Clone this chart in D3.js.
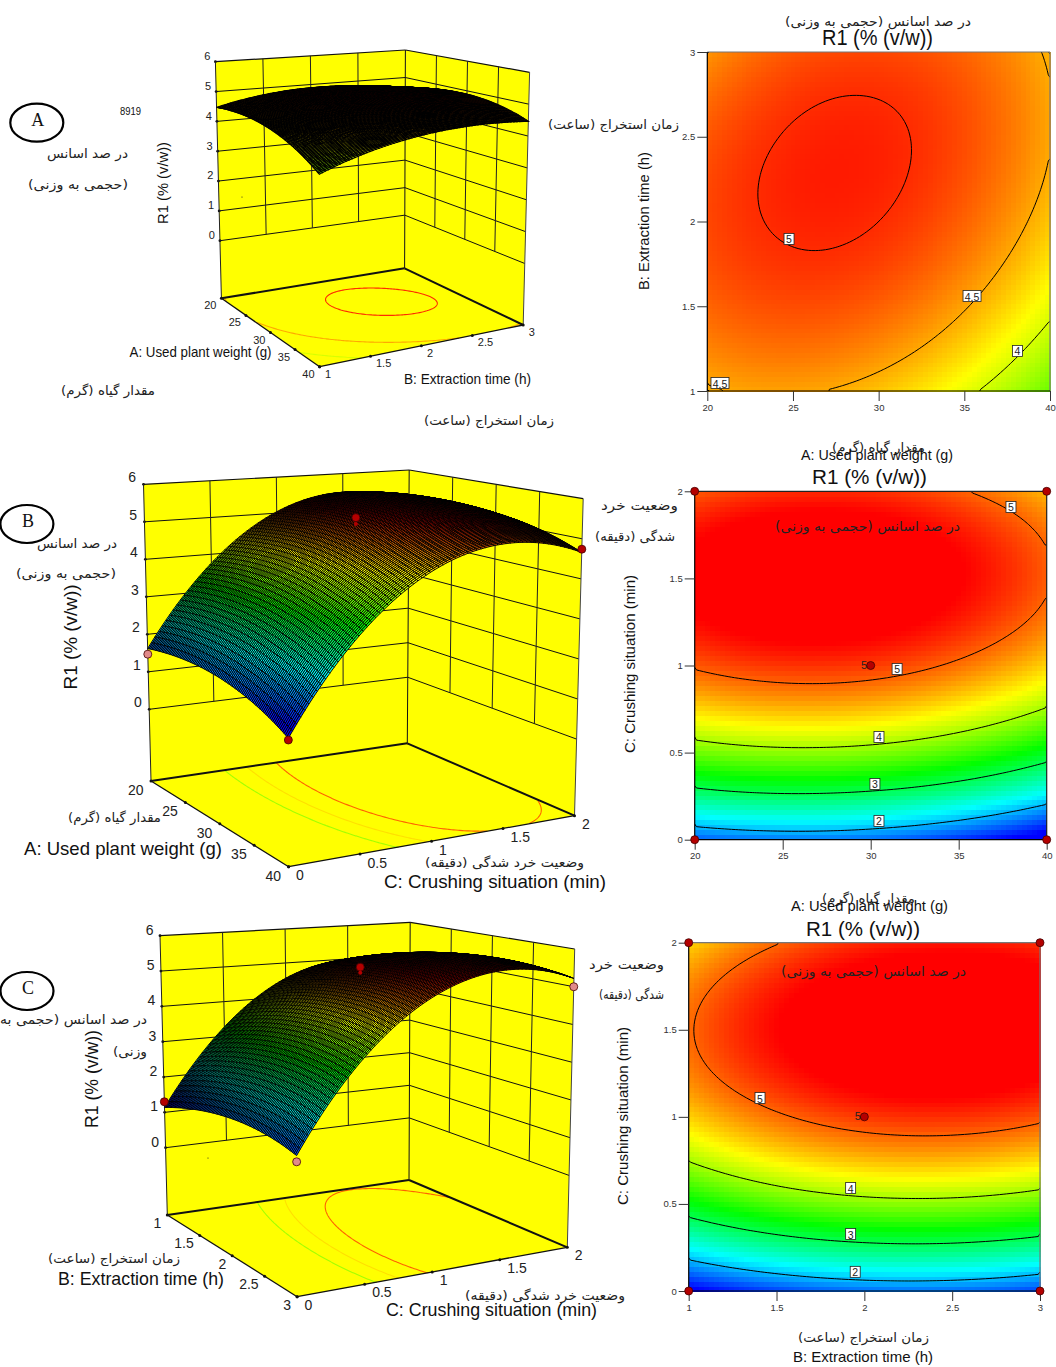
<!DOCTYPE html>
<html><head><meta charset="utf-8">
<style>html,body{margin:0;padding:0;background:#fff}svg{display:block}</style>
<script src="https://cdn.jsdelivr.net/npm/d3@7/dist/d3.min.js"></script>
</head><body><svg id="c" width="1056" height="1367"></svg>
<script>
// ---------- data ----------
const weightTicks=[20,25,30,35,40];
const timeTicks=[1,1.5,2,2.5,3];
const crushTicks=[0,0.5,1,1.5,2];
const r1Ticks=[0,1,2,3,4,5,6];
// R1 read at each (y row, x column): rows follow the y ticks, columns the x ticks
const r1WeightTime=[
 [4.47,4.525,4.39,4.07,3.57],
 [4.77,4.87,4.79,4.52,4.07],
 [4.89,5.03,5.00,4.78,4.38],
 [4.83,5.02,5.04,4.87,4.51],
 [4.58,4.83,4.89,4.77,4.46]];
const r1WeightCrush=[
 [1.62,1.75,1.69,1.44,1.00],
 [3.76,3.90,3.85,3.62,3.20],
 [5.04,5.19,5.16,4.94,4.54],
 [5.47,5.64,5.62,5.42,5.03],
 [5.04,5.22,5.22,5.03,4.66]];
const r1TimeCrush=[
 [1.14,1.50,1.68,1.68,1.50],
 [3.27,3.66,3.86,3.88,3.72],
 [4.55,4.95,5.17,5.21,5.07],
 [4.97,5.39,5.63,5.70,5.58],
 [4.54,4.98,5.24,5.32,5.22]];
const levelsA=[4,4.5,5], levelsBC=[2,3,4,5], floorLevels=[4,4.5,5];
const rampA=[1.13,2.14,3.15,4.16,5.17], rampBC=[1.25,2.3,3.35,4.37,5.4];
const rampColors=['#0000ff','#00ffff','#00ff00','#ffff00','#ff0000'];
// design points: [x, y, R1, kind]
const pointsB=[[20,0,1.47,'low'],[40,0,0.96,'high'],[40,2,4.74,'high'],[30,1,5.36,'high'],[30,1,5.2,'small']];
const pointsC=[[1,0,1.3,'high'],[3,0,1.35,'low'],[3,2,5.0,'low'],[2,1,5.37,'high'],[2,1,5.22,'small']];
const heatCornersB=[[20,0],[40,0],[20,2],[40,2],[30,1]];
const heatCornersC=[[1,0],[3,0],[1,2],[3,2],[2,1]];
// contour label anchors: [x, y, text]
const labelsA=[[24.77,1.897,'5'],[35.45,1.56,'4.5'],[38.1,1.236,'4'],[20.74,1.047,'4.5']];
const labelsB=[[37.97,1.91,'5'],[31.5,0.98,'5'],[30.47,0.59,'4'],[30.24,0.32,'3'],[30.47,0.108,'2']];
const labelsC=[[1.406,1.108,'5'],[1.922,0.591,'4'],[1.922,0.327,'3'],[1.948,0.11,'2']];

const FA='"DejaVu Sans"',LA='"Liberation Sans"',SE='"Liberation Serif"';
const faEssence='در صد اسانس',faBasis='(حجمی به وزنی)',faFull='در صد اسانس (حجمی به وزنی)';
const faPlant='مقدار گیاه (گرم)',faTime='زمان استخراج (ساعت)',faCrush='وضعیت خرد شدگی (دقیقه)';
const tWeight='A: Used plant weight (g)',tTime='B: Extraction time (h)',tCrush='C: Crushing situation (min)',tR='R1 (% (v/w))';
// free text: [string, centre x, centre y, width, font size, font, rotated]
const texts=[
 ['8919',130.5,111,21,10,LA],
 [faEssence,87.5,153,81,13,FA],[faBasis,78,184,100,13,FA],[faPlant,108,390,94,13,FA],[faTime,489,420,130,13,FA],[faTime,613.5,124,131,13,FA],
 [faFull,878,21,186,13,FA],[tR,877.5,37,111,22,LA],
 [tWeight,200.5,351,142,15,LA],[tTime,467.5,378,127,15,LA],[tR,163,183,82,14.5,LA,1],
 [tTime,643,221,138,15,LA,1],
 [faPlant,878.5,447,93,13,FA],[tWeight,877,455,152,14.5,LA],
 // B
 [faEssence,77,543,80,13,FA],[faBasis,66,573,100,13,FA],[tR,70,637,105,19,LA,1],
 [faPlant,114.5,817,93,13,FA],[tWeight,123,848,198,19,LA],[faCrush,504.5,862,159,13,FA],[tCrush,495,881,222,19,LA],
 ['وضعیت خرد',639.5,505,77,13,FA],['شدگی (دقیقه)',635,536,80,13,FA],
 [tR,869.5,476,115,21,LA],[tCrush,629,664,178,15.5,LA,1],
 [faPlant,868.5,898,93,13,FA],[tWeight,869.5,906,157,14.5,LA],
 // C
 ['در صد اسانس (حجمی به',73.5,1019,147,13,FA],['وزنی)',130,1051,34,13,FA],[tR,92,1079,98,18,LA,1],
 [faTime,114,1258,132,13,FA],[tTime,141,1278,166,19,LA],[faCrush,545,1295,160,13,FA],[tCrush,491.5,1309,211,19,LA],
 ['وضعیت خرد',626.5,964,75,13,FA],['شدگی (دقیقه)',631.5,994,65,13,FA],
 [tR,863,928,114,21,LA],[tCrush,622,1116,178,15.5,LA,1],
 [faTime,863.5,1337,131,13,FA],[tTime,863,1357,140,14.5,LA]
];
const inPlot=[[faFull,867.5,526,185,13.5,FA],[faFull,873.5,971,185,13.5,FA]];

// ---------- drawing ----------
const svg=d3.select('#c');
function txt(g,d){
 const [s,cx,cy,w,size,font,rot]=d;
 const isFa=font===FA;
 g.append('text').attr('transform',`translate(${cx},${cy})`+(rot?' rotate(-90)':''))
  .attr('text-anchor','middle').attr('dominant-baseline','central')
  .attr('font-family',font).attr('font-size',size).attr('fill',isFa?'#222':'#111')
  .attr('direction',isFa?'rtl':null)
  .attr('textLength',w).attr('lengthAdjust','spacingAndGlyphs').text(s);
}
// biquartic upsampling of the read grid for drawing
function lag(t,i){const n=[0,.25,.5,.75,1];let r=1;n.forEach((v,k)=>{if(k!==i)r*=(t-v)/(n[i]-v)});return r}
function surf(grid,u,v){let s=0;for(let j=0;j<5;j++){const lj=lag(v,j);for(let i=0;i<5;i++)s+=grid[j][i]*lag(u,i)*lj}return s}
function ringsPath(level,grid,map){
 const n=100,vals=new Float64Array(n*n);
 for(let j=0;j<n;j++)for(let i=0;i<n;i++)vals[j*n+i]=surf(grid,(i+.5)/n,(j+.5)/n);
 const c=d3.contours().size([n,n]).thresholds([level])(vals)[0];
 let d='';
 c.coordinates.forEach(poly=>poly.forEach(ring=>{
  let pen=false;
  for(let k=1;k<ring.length;k++){
   const a=ring[k-1],b=ring[k];
   const edge=(a[0]===b[0]&&(a[0]===0||a[0]===n))||(a[1]===b[1]&&(a[1]===0||a[1]===n));
   if(edge){pen=false;continue}
   if(!pen){const p=map(a[0]/n,a[1]/n);d+='M'+p[0].toFixed(2)+','+p[1].toFixed(2);pen=true}
   const p=map(b[0]/n,b[1]/n);d+='L'+p[0].toFixed(2)+','+p[1].toFixed(2);
  }
 }));
 return d;
}
function dot(g,x,y,kind,r){
 g.append('circle').attr('cx',x).attr('cy',y).attr('r',r)
  .attr('fill',kind==='low'?'#e08a8a':'#b40000').attr('stroke',kind==='small'?'none':'#400').attr('stroke-width',.8);
}

function panel3d(c){
 const g=svg.append('g');
 const X=d3.scaleLinear().domain(d3.extent(c.xTicks)).range([0,1]);
 const Y=d3.scaleLinear().domain(d3.extent(c.yTicks)).range([0,1]);
 const Z=d3.scaleLinear().domain([c.zFloor,6]).range([0,1]);
 const bil=(q,u,v)=>{const a=d3.interpolate(q[0],q[1])(v),b=d3.interpolate(q[3],q[2])(v);return d3.interpolate(a,b)(u)};
 const proj=(u,v,w)=>{const f=bil(c.floor,u,v),t=bil(c.top,u,v);return [f[0]+(t[0]-f[0])*w,f[1]+(t[1]-f[1])*w]};
 const P=(x,y,z)=>proj(X(x),Y(y),Z(z));
 const line=d3.line();
 const poly=pts=>line(pts)+'Z';
 const fz=c.zFloor;
 // walls and floor
 g.append('path').attr('d',poly([proj(0,0,0),proj(0,1,0),proj(0,1,1),proj(0,0,1)])).attr('fill','#ffff00');
 g.append('path').attr('d',poly([proj(0,1,0),proj(1,1,0),proj(1,1,1),proj(0,1,1)])).attr('fill','#ffff00');
 g.append('path').attr('d',poly([proj(0,0,0),proj(1,0,0),proj(1,1,0),proj(0,1,0)])).attr('fill','#ffff00');
 const L=(a,b,w,col)=>g.append('path').attr('d',line([a,b])).attr('stroke',col||'#111').attr('stroke-width',w).attr('fill','none');
 r1Ticks.forEach(z=>{
  L(P(c.xTicks[0],c.yTicks[0],z),P(c.xTicks[0],c.yTicks[4],z),z===6?1.2:1);
  L(P(c.xTicks[0],c.yTicks[4],z),P(c.xTicks[4],c.yTicks[4],z),z===6?1.2:1);
  const t=P(c.xTicks[0],c.yTicks[0],z);
  g.append('circle').attr('cx',t[0]).attr('cy',t[1]).attr('r',1.4).attr('fill','#111');
  g.append('text').attr('x',t[0]+c.zOff[0]).attr('y',t[1]+c.zOff[1]).attr('text-anchor','end').attr('dominant-baseline','central')
   .attr('font-family',LA).attr('font-size',c.tickSize).attr('fill','#222').text(z);
 });
 c.yTicks.slice(1,4).forEach(y=>L(P(c.xTicks[0],y,0),P(c.xTicks[0],y,6),1,'#222'));
 c.xTicks.slice(1,4).forEach(x=>L(P(x,c.yTicks[4],0),P(x,c.yTicks[4],6),1,'#222'));
 L(proj(0,0,0),proj(0,0,1),1,'#222');L(proj(0,1,0),proj(0,1,1),1);L(proj(1,1,0),proj(1,1,1),1,'#444');
 // floor contours
 const ramp=d3.scaleLinear().domain(c.ramp).range(rampColors).clamp(true);
 floorLevels.forEach(l=>g.append('path').attr('d',ringsPath(l,c.grid,(u,v)=>proj(u,v,0)))
  .attr('fill','none').attr('stroke',ramp(l)).attr('stroke-width',1.1));
 L(proj(0,0,0),proj(0,1,0),2);L(proj(0,1,0),proj(1,1,0),2);L(proj(0,0,0),proj(1,0,0),1.3);L(proj(1,0,0),proj(1,1,0),1.3);
 // floor ticks and labels
 c.xTicks.forEach(x=>{const t=P(x,c.yTicks[0],fz);
  g.append('circle').attr('cx',t[0]).attr('cy',t[1]).attr('r',1.5).attr('fill','#111');
  g.append('text').attr('x',t[0]+c.xOff[0]).attr('y',t[1]+c.xOff[1]).attr('text-anchor','end').attr('dominant-baseline','central')
   .attr('font-family',LA).attr('font-size',c.tickSize).attr('fill','#222').text(x)});
 c.yTicks.forEach(y=>{const t=P(c.xTicks[4],y,fz);
  g.append('circle').attr('cx',t[0]).attr('cy',t[1]).attr('r',1.5).attr('fill','#111');
  g.append('text').attr('x',t[0]+c.yOff[0]).attr('y',t[1]+c.yOff[1]).attr('text-anchor','start').attr('dominant-baseline','central')
   .attr('font-family',LA).attr('font-size',c.tickSize).attr('fill','#222').text(y)});
 // mesh, back to front
 const nx=100,ny=70,cells=[];
 for(let j=0;j<ny;j++)for(let i=0;i<nx;i++)cells.push([i,j,(i+.5)/nx-(j+.5)/ny]);
 cells.sort((a,b)=>a[2]-b[2]);
 const zw=v=>Z(v);
 g.append('g').selectAll('path').data(cells).join('path')
  .attr('d',d=>{const [i,j]=d,u0=i/nx,u1=(i+1)/nx,v0=j/ny,v1=(j+1)/ny;
   return poly([proj(u0,v0,zw(surf(c.grid,u0,v0))),proj(u1,v0,zw(surf(c.grid,u1,v0))),proj(u1,v1,zw(surf(c.grid,u1,v1))),proj(u0,v1,zw(surf(c.grid,u0,v1)))])})
  .attr('fill',d=>ramp(surf(c.grid,(d[0]+.5)/nx,(d[1]+.5)/ny)))
  .attr('stroke','#000').attr('stroke-width',c.mesh);
 (c.points||[]).forEach(p=>{const t=P(p[0],p[1],p[2]);dot(g,t[0],t[1],p[3],p[3]==='small'?2:c.dotR)});
 (c.specks||[]).forEach(s=>g.append('circle').attr('cx',s[0]).attr('cy',s[1]).attr('r',.6).attr('fill','#222'));
}

function heat(c){
 const g=svg.append('g');
 const x=d3.scaleLinear().domain(d3.extent(c.xTicks)).range(c.xr);
 const y=d3.scaleLinear().domain(d3.extent(c.yTicks)).range(c.yr);
 const ramp=d3.scaleLinear().domain(c.ramp).range(rampColors).clamp(true);
 const n=70,cells=d3.cross(d3.range(n),d3.range(n));
 const U=d3.scaleLinear().domain([0,n]).range(c.xr),V=d3.scaleLinear().domain([0,n]).range(c.yr);
 g.append('g').attr('shape-rendering','crispEdges').selectAll('rect').data(cells).join('rect')
  .attr('x',d=>U(d[0])).attr('y',d=>V(d[1]+1))
  .attr('width',d=>U(d[0]+1)-U(d[0])+.6).attr('height',d=>V(d[1])-V(d[1]+1)+.6)
  .attr('fill',d=>ramp(surf(c.grid,(d[0]+.5)/n,(d[1]+.5)/n)));
 const cid='clip'+c.id;
 g.append('clipPath').attr('id',cid).append('rect').attr('x',c.xr[0]).attr('y',c.yr[1]).attr('width',c.xr[1]-c.xr[0]).attr('height',c.yr[0]-c.yr[1]);
 const gc=g.append('g').attr('clip-path',`url(#${cid})`);
 const U1=d3.scaleLinear().domain([0,1]).range(c.xr),V1=d3.scaleLinear().domain([0,1]).range(c.yr);
 c.levels.forEach(l=>gc.append('path').attr('d',ringsPath(l,c.grid,(u,v)=>[U1(u),V1(v)]))
  .attr('fill','none').attr('stroke','#000').attr('stroke-width',1));
 // frame
 const F=(a,b,col)=>g.append('line').attr('x1',a[0]).attr('y1',a[1]).attr('x2',b[0]).attr('y2',b[1]).attr('stroke',col).attr('stroke-width',1.2);
 F([c.xr[0],c.yr[1]],[c.xr[1],c.yr[1]],c.frame);F([c.xr[1],c.yr[1]],[c.xr[1],c.yr[0]],c.frame);
 F([c.xr[0],c.yr[0]],[c.xr[0],c.yr[1]],'#000');F([c.xr[0],c.yr[0]],[c.xr[1],c.yr[0]],'#000');
 const ax=a=>{a.select('.domain').remove();a.selectAll('text').attr('font-family',LA).attr('font-size',9.5).attr('fill','#333');a.selectAll('line').attr('stroke','#333')};
 g.append('g').attr('transform',`translate(0,${c.yr[0]})`).call(d3.axisBottom(x).tickValues(c.xTicks).tickFormat(d=>d).tickSize(10).tickPadding(3)).call(ax);
 g.append('g').attr('transform',`translate(${c.xr[0]},0)`).call(d3.axisLeft(y).tickValues(c.yTicks).tickFormat(d=>d).tickSize(10).tickPadding(2)).call(ax);
 (c.points||[]).forEach(p=>dot(g,x(p[0]),y(p[1]),'high',4));
 if(c.center){g.append('text').attr('x',x(c.center[0])-3.5).attr('y',y(c.center[1])-1).attr('text-anchor','end').attr('dominant-baseline','central')
  .attr('font-family',LA).attr('font-size',11).attr('fill','#222').text('5')}
 c.labels.forEach(l=>{
  const w=l[2].length>1?18:10,h=11,px=x(l[0]),py=y(l[1]);
  g.append('rect').attr('x',px-w/2).attr('y',py-h/2).attr('width',w).attr('height',h).attr('fill','#fff').attr('stroke','#222').attr('stroke-width',.8);
  g.append('text').attr('x',px).attr('y',py+.5).attr('text-anchor','middle').attr('dominant-baseline','central')
   .attr('font-family',LA).attr('font-size',10.5).attr('fill','#222').text(l[2]);
 });
}

panel3d({xTicks:weightTicks,yTicks:timeTicks,grid:r1WeightTime,ramp:rampA,zFloor:-1.93,tickSize:11,mesh:1.1,dotR:4,
 floor:[[221.4,298.3],[404.6,268.3],[523.2,325],[319.6,366.7]],
 top:[[215.4,61.7],[405.4,50],[529.6,72.3],[319.2,89.2]],
 zOff:[-5,-5.7],xOff:[-5,7],yOff:[5.5,7],specks:[[242,197]]});
panel3d({xTicks:weightTicks,yTicks:crushTicks,grid:r1WeightCrush,ramp:rampBC,zFloor:-1.912,tickSize:14,mesh:.95,dotR:4,points:pointsB,
 floor:[[151,781],[407.3,743.3],[574.5,815.7],[288.6,866.7]],
 top:[[143.5,484.3],[409.2,470],[583.2,498.7],[287.9,517.7]],
 zOff:[-7.5,-7],xOff:[-7.5,9],yOff:[7.5,8.7]});
panel3d({xTicks:timeTicks,yTicks:crushTicks,grid:r1TimeCrush,ramp:rampBC,zFloor:-1.905,tickSize:14,mesh:.95,dotR:4,points:pointsC,
 floor:[[167.3,1215],[409,1180],[567.3,1247.3],[297.1,1296.7]],
 top:[[160,935.7],[410.2,922.3],[574.7,949],[296,969.1]],
 zOff:[-6.5,-6],xOff:[-6,8],yOff:[7.5,8],specks:[[208,1158]]});

heat({id:'A',xTicks:weightTicks,yTicks:timeTicks,grid:r1WeightTime,ramp:rampA,levels:levelsA,labels:labelsA,frame:'#777',
 xr:[707.3,1050],yr:[391,52]});
heat({id:'B',xTicks:weightTicks,yTicks:crushTicks,grid:r1WeightCrush,ramp:rampBC,levels:levelsBC,labels:labelsB,frame:'#222',
 xr:[694.7,1046.7],yr:[839.7,491.3],points:heatCornersB,center:[30,1]});
heat({id:'C',xTicks:timeTicks,yTicks:crushTicks,grid:r1TimeCrush,ramp:rampBC,levels:levelsBC,labels:labelsC,frame:'#777',
 xr:[688.7,1040],yr:[1291,942.7],points:heatCornersC,center:[2,1]});

// circled panel letters
[['A',36.8,122.7],['B',26.9,524],['C',27,991]].forEach(d=>{
 svg.append('ellipse').attr('cx',d[1]).attr('cy',d[2]).attr('rx',26.5).attr('ry',19).attr('fill','none').attr('stroke','#000').attr('stroke-width',2.2);
 svg.append('text').attr('x',d[1]+1).attr('y',d[2]-3).attr('text-anchor','middle').attr('dominant-baseline','central')
  .attr('font-family',SE).attr('font-size',18).attr('fill','#111').text(d[0]);
});
const tg=svg.append('g');
texts.forEach(d=>txt(tg,d));
inPlot.forEach(d=>txt(tg,d));
</script></body></html>
